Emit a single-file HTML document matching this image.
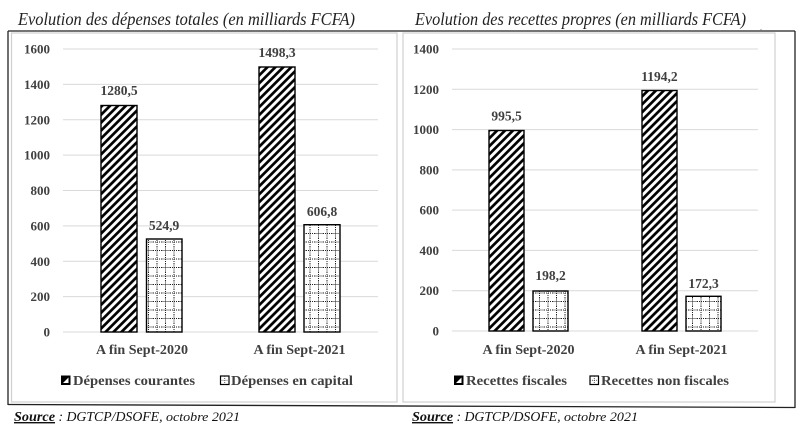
<!DOCTYPE html>
<html><head><meta charset="utf-8"><style>
html,body{margin:0;padding:0;background:#fff;}
svg{display:block;}
text{font-family:"Liberation Serif",serif;}
</style></head><body>
<svg width="800" height="434" viewBox="0 0 800 434" xmlns="http://www.w3.org/2000/svg">
<defs>
<pattern id="hatch" patternUnits="userSpaceOnUse" width="5.6" height="5.6" patternTransform="rotate(45)">
<rect width="5.6" height="5.6" fill="#fff"/>
<line x1="1.4" y1="0" x2="1.4" y2="5.6" stroke="#000" stroke-width="2.7"/>
</pattern>
<pattern id="grid" patternUnits="userSpaceOnUse" width="8.5" height="8.5">
<rect width="8.5" height="8.5" fill="#fff"/>
<line x1="4" y1="0" x2="4" y2="8.5" stroke="#222" stroke-width="1" stroke-dasharray="1,1"/>
<line x1="0" y1="4" x2="8.5" y2="4" stroke="#222" stroke-width="1" stroke-dasharray="1,1"/>
</pattern>
</defs>
<rect width="800" height="434" fill="#fff"/>

<!-- titles -->
<text x="18" y="25" font-size="17.5" font-style="italic" fill="#222" textLength="337" lengthAdjust="spacingAndGlyphs">Evolution des dépenses totales (en milliards FCFA)</text>
<text x="415" y="25" font-size="17.5" font-style="italic" fill="#222" textLength="331" lengthAdjust="spacingAndGlyphs">Evolution des recettes propres (en milliards FCFA)</text>
<text x="760" y="30" font-size="8" fill="#666">.</text>

<!-- outer box -->
<line x1="8" y1="31" x2="795" y2="31" stroke="#222" stroke-width="1.3"/>
<line x1="8" y1="31" x2="8" y2="405" stroke="#222" stroke-width="1.3"/>
<line x1="795" y1="31" x2="795" y2="408" stroke="#222" stroke-width="1.3"/>
<line x1="8" y1="404.5" x2="795" y2="407.5" stroke="#222" stroke-width="1.3"/>

<!-- inner chart borders -->
<rect x="11.5" y="33" width="385.5" height="369" fill="none" stroke="#d0d0d0" stroke-width="1.2"/>
<rect x="403" y="33" width="372" height="369" fill="none" stroke="#d0d0d0" stroke-width="1.2"/>

<!-- LEFT CHART grid -->
<g stroke="#d9d9d9" stroke-width="1">
<line x1="63" y1="49" x2="378" y2="49"/>
<line x1="63" y1="84.4" x2="378" y2="84.4"/>
<line x1="63" y1="119.8" x2="378" y2="119.8"/>
<line x1="63" y1="155.1" x2="378" y2="155.1"/>
<line x1="63" y1="190.5" x2="378" y2="190.5"/>
<line x1="63" y1="225.9" x2="378" y2="225.9"/>
<line x1="63" y1="261.3" x2="378" y2="261.3"/>
<line x1="63" y1="296.6" x2="378" y2="296.6"/>
<line x1="63" y1="332" x2="378" y2="332"/>
</g>
<g font-size="13" font-weight="bold" fill="#404040" text-anchor="end">
<text x="50" y="53.5">1600</text>
<text x="50" y="88.9">1400</text>
<text x="50" y="124.3">1200</text>
<text x="50" y="159.6">1000</text>
<text x="50" y="195">800</text>
<text x="50" y="230.4">600</text>
<text x="50" y="265.8">400</text>
<text x="50" y="301.1">200</text>
<text x="50" y="336.5">0</text>
</g>
<!-- left bars -->
<rect x="101" y="105.5" width="36" height="226.5" fill="url(#hatch)" stroke="#000" stroke-width="1.4"/>
<rect x="146.5" y="239" width="35.5" height="93" fill="url(#grid)" stroke="#000" stroke-width="1.4"/>
<rect x="259" y="67" width="36" height="265" fill="url(#hatch)" stroke="#000" stroke-width="1.4"/>
<rect x="304" y="224.7" width="36" height="107.3" fill="url(#grid)" stroke="#000" stroke-width="1.4"/>
<g font-size="13.5" font-weight="bold" fill="#404040" text-anchor="middle">
<text x="119" y="95">1280,5</text>
<text x="277" y="57">1498,3</text>
<text x="164" y="230">524,9</text>
<text x="322" y="216">606,8</text>
</g>
<g font-size="14" font-weight="bold" fill="#404040" text-anchor="middle">
<text x="142" y="354" textLength="92" lengthAdjust="spacingAndGlyphs">A fin Sept-2020</text>
<text x="299.5" y="354" textLength="92" lengthAdjust="spacingAndGlyphs">A fin Sept-2021</text>
</g>
<!-- left legend -->
<rect x="61.5" y="376" width="8.5" height="8.5" fill="#000" stroke="#000"/>
<polygon points="63,383 68.5,377.5 68.5,383" fill="#fff"/>
<text x="73" y="385" font-size="14" font-weight="bold" fill="#404040" textLength="122" lengthAdjust="spacingAndGlyphs">Dépenses courantes</text>
<rect x="220.5" y="376" width="8.5" height="8.5" fill="#fff" stroke="#000" stroke-width="1.2"/>
<line x1="224.75" y1="376" x2="224.75" y2="384.5" stroke="#333" stroke-width="0.8" stroke-dasharray="1,1"/>
<line x1="220.5" y1="380.25" x2="229" y2="380.25" stroke="#333" stroke-width="0.8" stroke-dasharray="1,1"/>
<text x="231" y="385" font-size="14" font-weight="bold" fill="#404040" textLength="122" lengthAdjust="spacingAndGlyphs">Dépenses en capital</text>

<!-- RIGHT CHART grid -->
<g stroke="#d9d9d9" stroke-width="1">
<line x1="452" y1="49" x2="758" y2="49"/>
<line x1="452" y1="89.3" x2="758" y2="89.3"/>
<line x1="452" y1="129.6" x2="758" y2="129.6"/>
<line x1="452" y1="169.9" x2="758" y2="169.9"/>
<line x1="452" y1="210.1" x2="758" y2="210.1"/>
<line x1="452" y1="250.4" x2="758" y2="250.4"/>
<line x1="452" y1="290.7" x2="758" y2="290.7"/>
<line x1="452" y1="331" x2="758" y2="331"/>
</g>
<g font-size="13" font-weight="bold" fill="#404040" text-anchor="end">
<text x="439" y="53.5">1400</text>
<text x="439" y="93.8">1200</text>
<text x="439" y="134.1">1000</text>
<text x="439" y="174.4">800</text>
<text x="439" y="214.6">600</text>
<text x="439" y="254.9">400</text>
<text x="439" y="295.2">200</text>
<text x="439" y="335.5">0</text>
</g>
<rect x="489" y="130.5" width="35" height="200.5" fill="url(#hatch)" stroke="#000" stroke-width="1.4"/>
<rect x="533" y="291" width="35" height="40" fill="url(#grid)" stroke="#000" stroke-width="1.4"/>
<rect x="642" y="90.5" width="35" height="240.5" fill="url(#hatch)" stroke="#000" stroke-width="1.4"/>
<rect x="686" y="296.3" width="35" height="34.7" fill="url(#grid)" stroke="#000" stroke-width="1.4"/>
<g font-size="13.5" font-weight="bold" fill="#404040" text-anchor="middle">
<text x="506.5" y="120.5">995,5</text>
<text x="659.5" y="81">1194,2</text>
<text x="550.5" y="280">198,2</text>
<text x="703.5" y="288">172,3</text>
</g>
<g font-size="14" font-weight="bold" fill="#404040" text-anchor="middle">
<text x="528.5" y="354" textLength="92" lengthAdjust="spacingAndGlyphs">A fin Sept-2020</text>
<text x="681.5" y="354" textLength="92" lengthAdjust="spacingAndGlyphs">A fin Sept-2021</text>
</g>
<rect x="454.5" y="376" width="8.5" height="8.5" fill="#000" stroke="#000"/>
<polygon points="456,383 461.5,377.5 461.5,383" fill="#fff"/>
<text x="466" y="385" font-size="14" font-weight="bold" fill="#404040" textLength="101" lengthAdjust="spacingAndGlyphs">Recettes fiscales</text>
<rect x="590" y="376" width="8.5" height="8.5" fill="#fff" stroke="#000" stroke-width="1.2"/>
<line x1="594.25" y1="376" x2="594.25" y2="384.5" stroke="#333" stroke-width="0.8" stroke-dasharray="1,1"/>
<line x1="590" y1="380.25" x2="598.5" y2="380.25" stroke="#333" stroke-width="0.8" stroke-dasharray="1,1"/>
<text x="601" y="385" font-size="14" font-weight="bold" fill="#404040" textLength="128" lengthAdjust="spacingAndGlyphs">Recettes non fiscales</text>

<!-- sources -->
<text x="14" y="421" font-size="14" font-style="italic" fill="#111"><tspan font-weight="bold" text-decoration="underline" textLength="41" lengthAdjust="spacingAndGlyphs">Source</tspan><tspan textLength="111" lengthAdjust="spacingAndGlyphs"> : DGTCP/DSOFE, </tspan><tspan font-size="12.5" textLength="74" lengthAdjust="spacingAndGlyphs">octobre 2021</tspan></text>
<text x="412" y="421" font-size="14" font-style="italic" fill="#111"><tspan font-weight="bold" text-decoration="underline" textLength="41" lengthAdjust="spacingAndGlyphs">Source</tspan><tspan textLength="111" lengthAdjust="spacingAndGlyphs"> : DGTCP/DSOFE, </tspan><tspan font-size="12.5" textLength="74" lengthAdjust="spacingAndGlyphs">octobre 2021</tspan></text>
</svg>
</body></html>
